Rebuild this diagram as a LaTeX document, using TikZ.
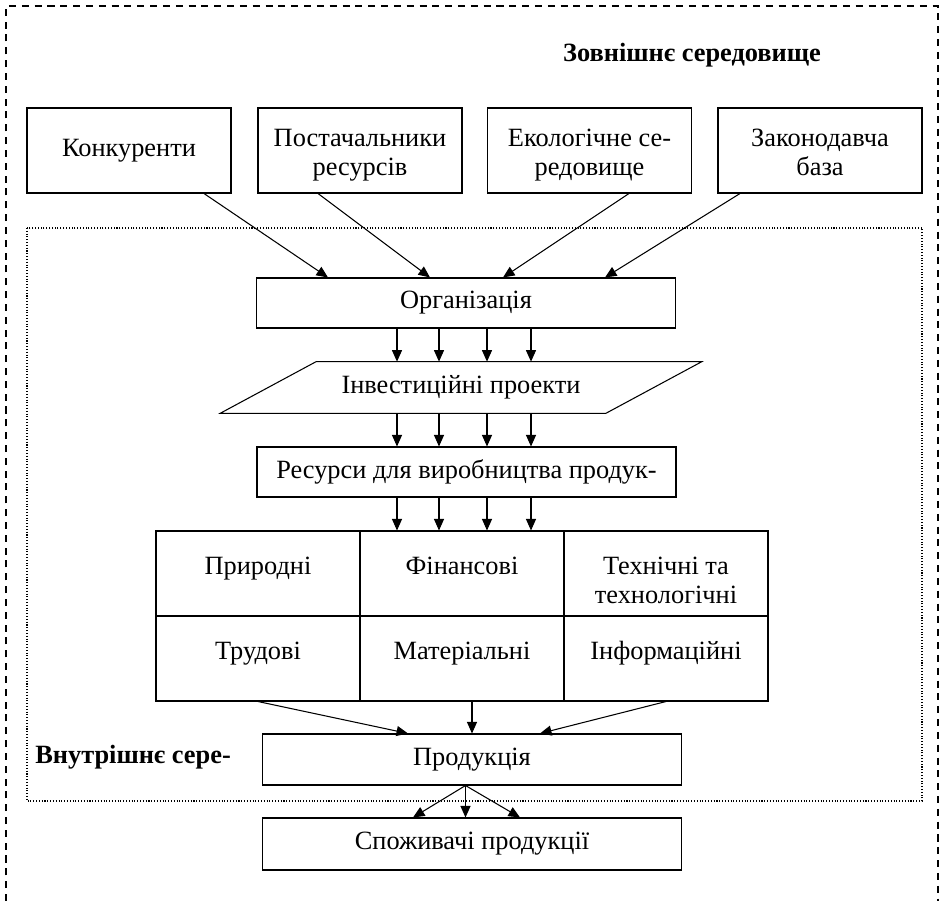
\documentclass[tikz,border=0pt]{standalone}
\usepackage{fontspec}
\setmainfont{Liberation Serif}
\usetikzlibrary{arrows.meta}

\tikzset{
	box/.style={draw, line width=0.6pt, minimum width=40.8mm, minimum height=17mm, align=center, inner sep=1pt},
	twoline/.style={draw, line width=0.6pt, minimum width=40.8mm, inner sep=0pt, text height=7.7mm, text depth=9.3mm},
	wide/.style={draw, line width=0.6pt, minimum width=83.8mm, minimum height=10.2mm, inner sep=1pt},
	cell/.style={draw, line width=0.6pt, minimum width=40.8mm, inner sep=0pt, text height=8.7mm, text depth=8.3mm},
	arr/.style={-{Triangle[length=2.3mm,width=2mm]}, line width=0.6pt},
}

\begin{document}
\begin{tikzpicture}[x=0.2mm, y=-0.2mm, font=\fontsize{15}{16.6}\selectfont]

		\useasboundingbox (0,0) rectangle (942,901);
		
		\draw[line width=1.1pt, dash pattern=on 4pt off 3.3pt] (6,901) -- (6,6) -- (938,6) -- (938,901);
		\draw[line width=0.6pt, densely dotted] (27,228) rectangle (922,801);
		
		\node[font=\fontsize{15}{16.6}\selectfont\bfseries] (outer) at (692,55) {Зовнішнє середовище};
		\node[font=\fontsize{15}{16.6}\selectfont\bfseries, anchor=west, inner sep=0pt] (inner) at (35,757) {Внутрішнє сере-};
		
		\node[box] (comp) at (129,150.5) {Конкуренти};
		\node[twoline] (supp) at (360,150.5) {\begin{tabular}[t]{@{}c@{}}Постачальники\\ресурсів\end{tabular}};
		\node[twoline] (eco) at (589.5,150.5) {\begin{tabular}[t]{@{}c@{}}Екологічне се-\\редовище\end{tabular}};
		\node[twoline] (law) at (820,150.5) {\begin{tabular}[t]{@{}c@{}}Законодавча\\база\end{tabular}};
		
		\node[wide, minimum height=10mm] (org) at (466,303) {Організація};
		
		\node[minimum width=77mm, minimum height=10.2mm, inner sep=0pt] (inv) at (461,387.5) {Інвестиційні проекти};
		\draw[line width=0.6pt] ([xshift=9.6mm]inv.north west) -- ([xshift=9.6mm]inv.north east) -- ([xshift=-9.6mm]inv.south east) -- ([xshift=-9.6mm]inv.south west) -- cycle;
		
		\node[wide, minimum height=10mm] (res) at (466.5,472) {Ресурси для виробництва продук-};
		
		\node[cell] (nat) at (258,573.5) {Природні};
		\node[cell] (fin) at (462,573.5) {Фінансові};
		\node[cell] (tech) at (666,573.5) {\begin{tabular}[t]{@{}c@{}}Технічні та\\технологічні\end{tabular}};
		\node[cell] (lab) at (258,658.5) {Трудові};
		\node[cell] (mat) at (462,658.5) {Матеріальні};
		\node[cell] (info) at (666,658.5) {Інформаційні};
		
		\node[wide] (prod) at (472,759.5) {Продукція};
		\node[wide, minimum height=10.4mm] (cons) at (472,844) {Споживачі продукції};
		
		\draw[arr] ([xshift=15mm]comp.south) -- ([xshift=-27.6mm]org.north);
		\draw[arr] ([xshift=-8.4mm]supp.south) -- ([xshift=-7.2mm]org.north);
		\draw[arr] ([xshift=7.9mm]eco.south) -- ([xshift=7.4mm]org.north);
		\draw[arr] ([xshift=-16mm]law.south) -- ([xshift=27.8mm]org.north);
		
		\draw[arr] ([xshift=-13.8mm]org.south) -- ([xshift=-13.8mm]org.south |- inv.north);
		\draw[arr] ([xshift=-5.4mm]org.south) -- ([xshift=-5.4mm]org.south |- inv.north);
		\draw[arr] ([xshift=4.2mm]org.south) -- ([xshift=4.2mm]org.south |- inv.north);
		\draw[arr] ([xshift=13mm]org.south) -- ([xshift=13mm]org.south |- inv.north);
		
		\draw[arr] ([xshift=-13.8mm]org.south |- inv.south) -- ([xshift=-13.8mm]org.south |- res.north);
		\draw[arr] ([xshift=-5.4mm]org.south |- inv.south) -- ([xshift=-5.4mm]org.south |- res.north);
		\draw[arr] ([xshift=4.2mm]org.south |- inv.south) -- ([xshift=4.2mm]org.south |- res.north);
		\draw[arr] ([xshift=13mm]org.south |- inv.south) -- ([xshift=13mm]org.south |- res.north);
		
		\draw[arr] ([xshift=-13.8mm]org.south |- res.south) -- ([xshift=-13.8mm]org.south |- fin.north);
		\draw[arr] ([xshift=-5.4mm]org.south |- res.south) -- ([xshift=-5.4mm]org.south |- fin.north);
		\draw[arr] ([xshift=4.2mm]org.south |- res.south) -- ([xshift=4.2mm]org.south |- fin.north);
		\draw[arr] ([xshift=13mm]org.south |- res.south) -- ([xshift=13mm]org.south |- fin.north);
		
		\draw[arr] (lab.south) -- ([xshift=-12.8mm]prod.north);
		\draw[arr] (prod.north |- mat.south) -- (prod.north);
		\draw[arr] (info.south) -- ([xshift=13.6mm]prod.north);
		
		\draw[arr] ([xshift=-1.3mm]prod.south) -- ([xshift=-11.8mm]cons.north);
		\draw[arr] ([xshift=-1.3mm]prod.south) -- ([xshift=-1.3mm]cons.north);
		\draw[arr] ([xshift=-1.3mm]prod.south) -- ([xshift=9.6mm]cons.north);
		
	\end{tikzpicture}
\end{document}
